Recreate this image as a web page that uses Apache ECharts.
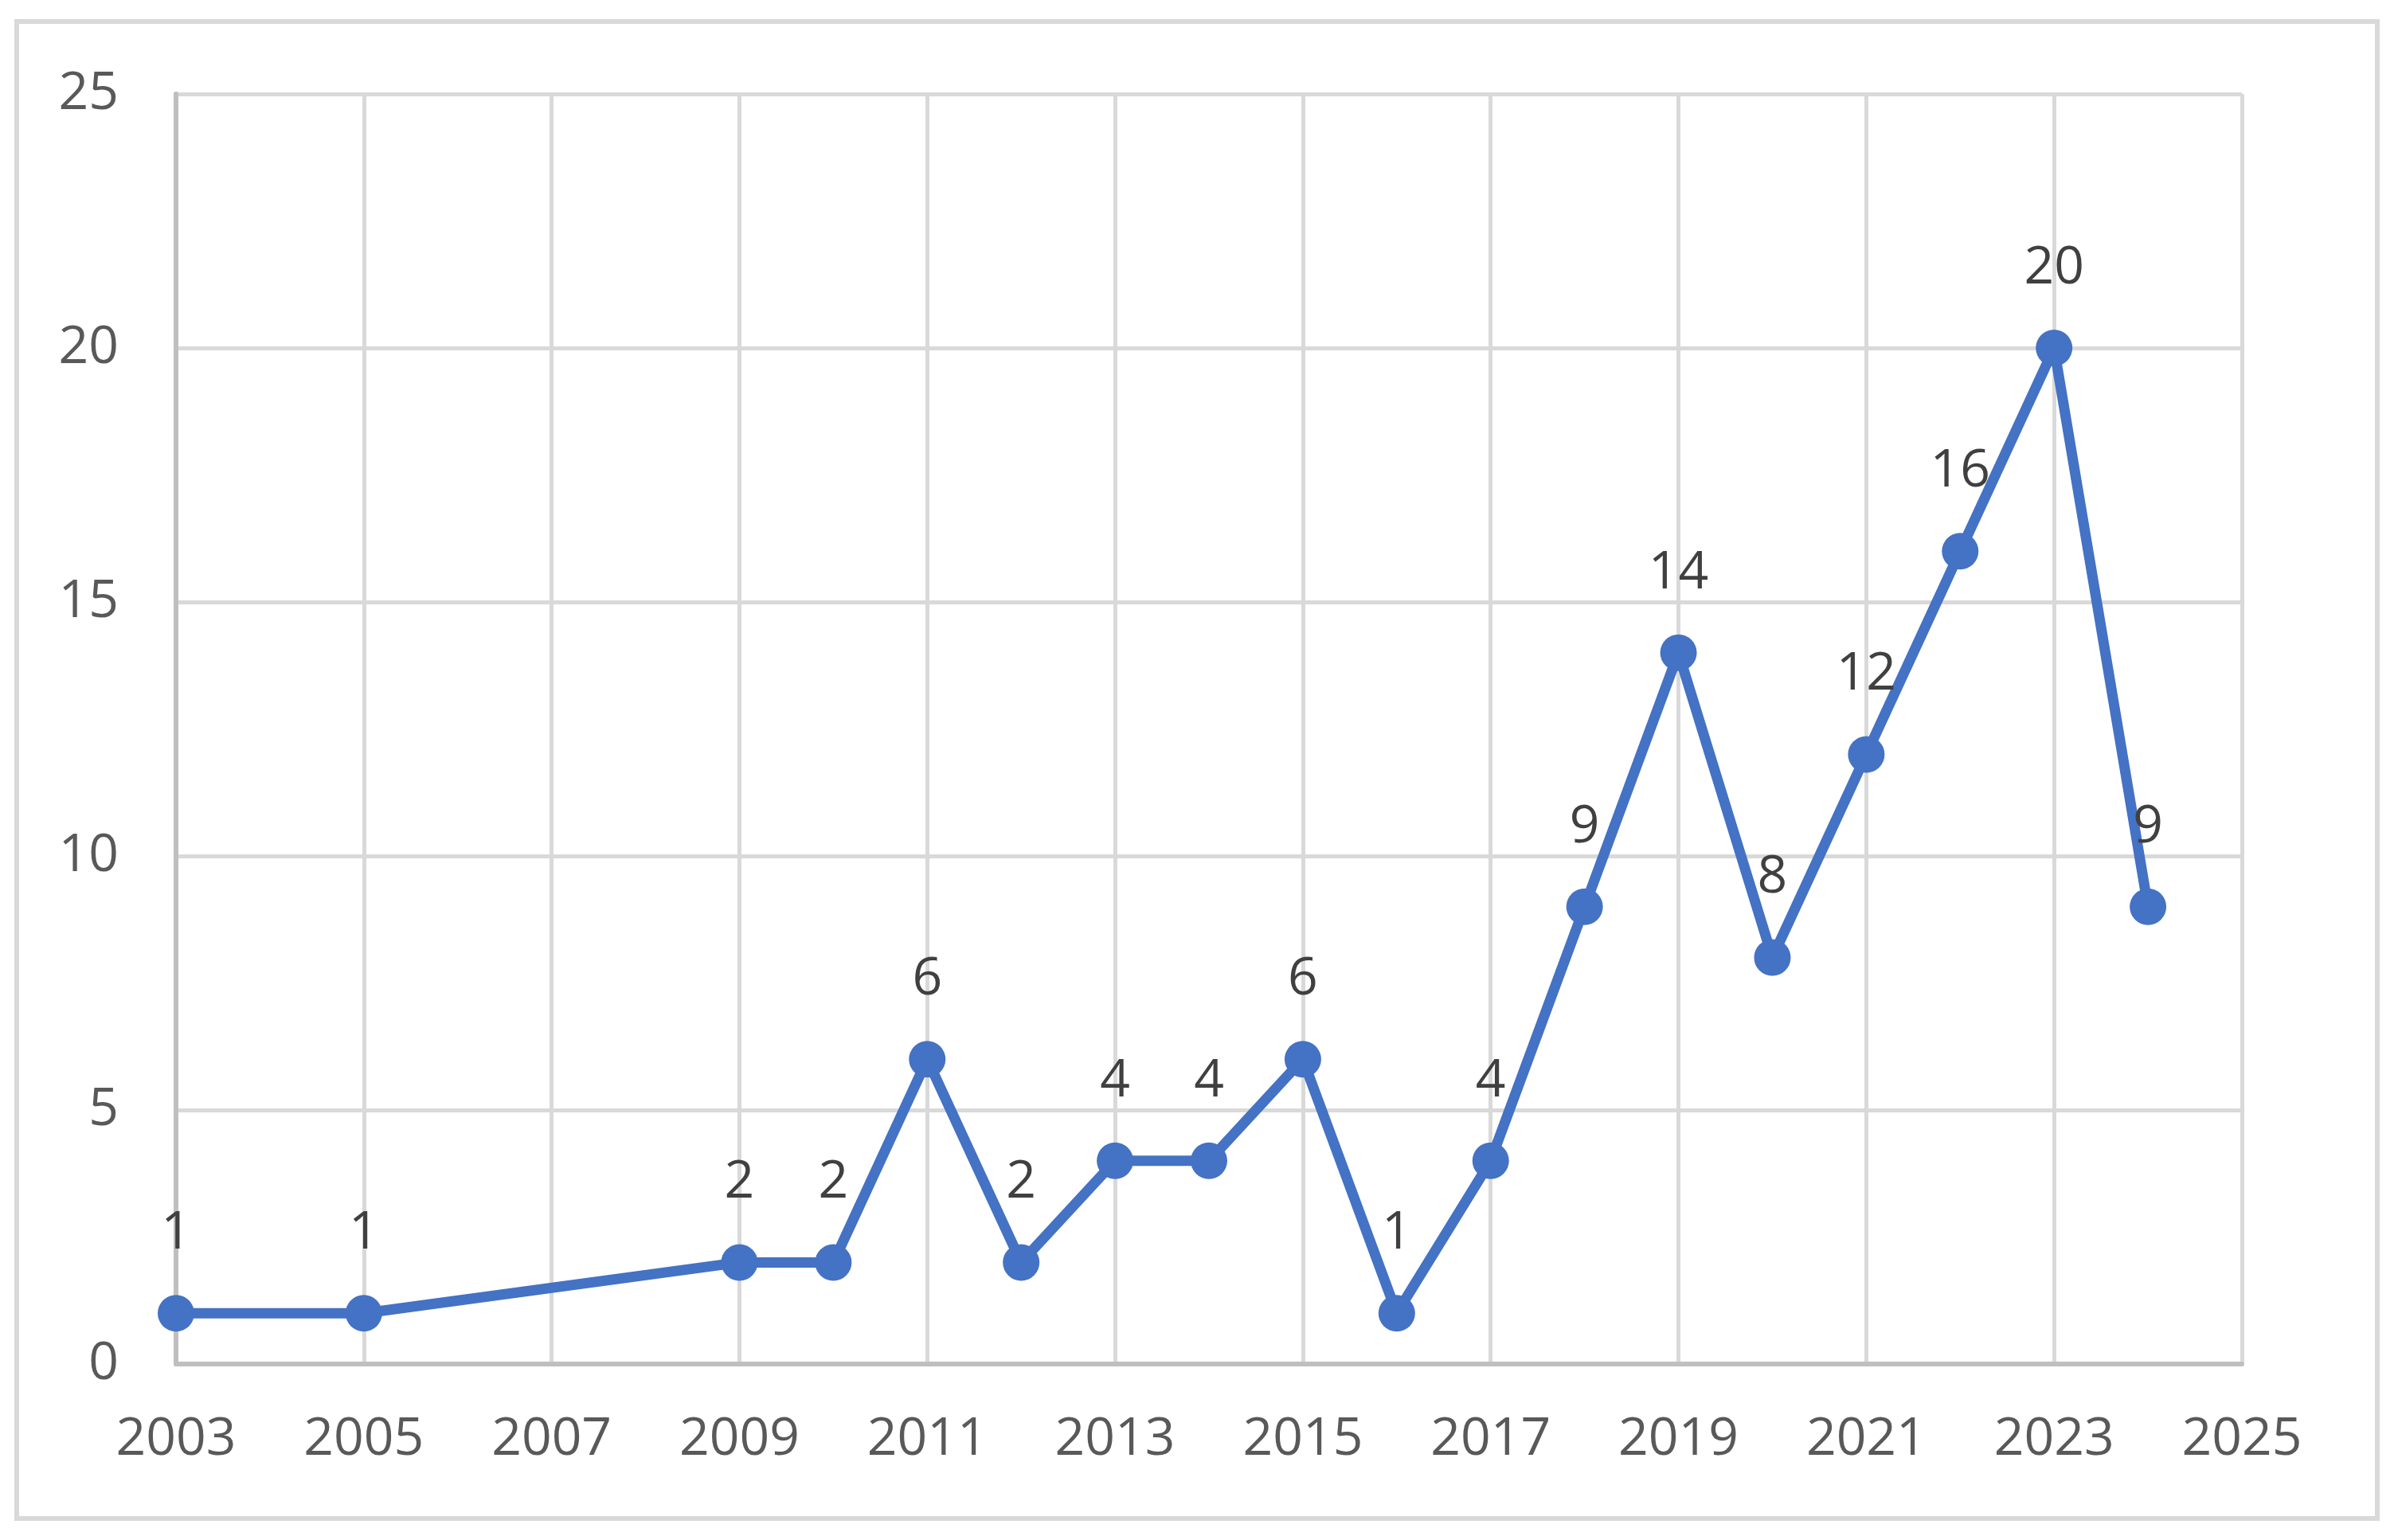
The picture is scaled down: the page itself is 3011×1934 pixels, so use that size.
<!DOCTYPE html>
<html>
<head>
<meta charset="utf-8">
<script src="https://cdn.jsdelivr.net/npm/echarts@6/dist/echarts.min.js"></script>
<style>
    html, body { margin: 0; padding: 0; background: #fff; }
    #chart { width: 3011px; height: 1934px; }
</style>
</head>
<body>
<div id="chart"></div>
<script>
    // 年份与数量
    var years = [2003, 2005, 2009, 2010, 2011, 2012, 2013, 2014, 2015, 2016, 2017, 2018, 2019, 2020, 2021, 2022, 2023, 2024];
    var counts = [1, 1, 2, 2, 6, 2, 4, 4, 6, 1, 4, 9, 14, 8, 12, 16, 20, 9];
    var xMin = 2003, xMax = 2025, xStep = 2;
    var yMin = 0, yMax = 25, yStep = 5;

    var points = [];
    for (var i = 0; i < years.length; i++) {
        points.push([years[i], counts[i]]);
    }

    var chart = echarts.init(document.getElementById('chart'));
    var font = 'Open Sans';
    var option = {
        backgroundColor: '#fff',
        animation: false,
        graphic: [{
            type: 'rect',
            shape: { x: 21, y: 27, width: 2964, height: 1880 },
            style: { fill: 'none', stroke: '#d9d9d9', lineWidth: 6 },
            silent: true
        }],
        grid: {
            left: 221,
            top: 118,
            right: 196,
            bottom: 221
        },
        xAxis: {
            type: 'value',
            min: xMin,
            max: xMax,
            interval: xStep,
            axisLine: { show: true, lineStyle: { color: '#bfbfbf', width: 6 } },
            axisTick: { show: false },
            splitLine: { show: true, lineStyle: { color: '#d9d9d9', width: 5 } },
            axisLabel: {
                color: '#595959',
                fontFamily: font,
                fontSize: 66,
                margin: 62,
                showMinLabel: true,
                showMaxLabel: true,
                formatter: function (v) { return String(v); }
            }
        },
        yAxis: {
            type: 'value',
            min: yMin,
            max: yMax,
            interval: yStep,
            axisLine: { show: true, lineStyle: { color: '#bfbfbf', width: 6 } },
            axisTick: { show: false },
            splitLine: { show: true, lineStyle: { color: '#d9d9d9', width: 5 } },
            axisLabel: {
                color: '#595959',
                fontFamily: font,
                fontSize: 66,
                margin: 72
            }
        },
        series: [{
            type: 'line',
            data: points,
            symbol: 'circle',
            symbolSize: 46,
            lineStyle: { color: '#4472c4', width: 13 },
            itemStyle: { color: '#4472c4' },
            label: {
                show: true,
                position: 'top',
                distance: 44,
                color: '#404040',
                fontFamily: font,
                fontSize: 66,
                formatter: function (p) { return p.value[1]; }
            }
        }]
    };
    chart.setOption(option);
</script>
</body>
</html>
